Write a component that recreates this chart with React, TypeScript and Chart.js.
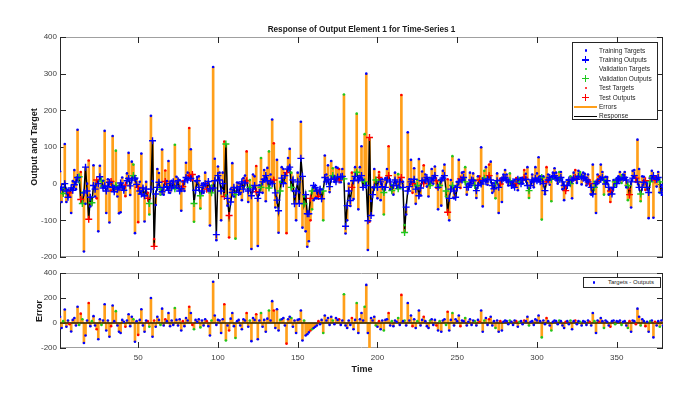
import React, { useEffect, useRef } from "react";
import { Chart, registerables } from "chart.js";
Chart.register(...registerables);

// ---------------- data ----------------
const timeTicks = [50, 100, 150, 200, 250, 300, 350];
const responseTicks = [-200, -100, 0, 100, 200, 300, 400];
const errorTicks = [-200, 0, 200, 400];

const outputs = [
  -16, -10, -27, 0, -20, -37, -25, -12, -18, -3,
  5, 17, 19, -43, -54, -25, 45, -20, -97, -37,
  -52, -5, -15, 10, 0, 19, 8, -12, -6, -20,
  -8, 4, 6, -10, -22, -5, -15, -11, 2, -8,
  -18, -4, 8, 14, -6, 10, 22, 15, -2, -10,
  -20, -28, -12, -33, -15, -40, -54, -15, 117, -171,
  -28, -10, 4, -15, -22, -10, 6, -8, -18, 0,
  -12, 5, -14, -6, 8, -20, -14, -8, 5, 17,
  10, 22, 14, 25, -54, -18, 8, -10, -33, -20,
  -5, 0, -15, 6, -14, -25, -12, 8, -139, 22,
  10, -20, 0, -35, 108, -40, -87, -50, -24, -10,
  -30, -12, -24, -8, 5, -15, 2, 8, -20, -10,
  -33, -15, -5, -22, -40, -24, -10, 5, 12, 22,
  8, -12, 5, 0, 10, -25, -45, -74, -20, 15,
  0, 22, 30, 40, 45, -10, 10, -55, -20, 5,
  -54, 69, 20, -55, -30, -82, -82, -40, -20, -5,
  -10, -20, -35, -15, -41, -20, 17, 5, 10, -8,
  12, 22, 15, 5, 18, 10, 19, 20, 13, -116,
  -60, -20, -46, -10, 8, 20, 31, 10, 15, 22,
  -10, 5, -5, -101, 126, -87, -30, -10, 10, -10,
  17, 5, -8, -24, -10, 10, 22, 5, -19, -5,
  10, -5, -14, 5, 17, -10, -133, -64, -20, -8,
  5, 0, 12, -15, -5, -33, -12, 8, 0, 10,
  17, 5, -5, 10, 15, 22, 8, -10, -5, 10,
  15, 22, -20, -78, -40, -15, -5, -20, -37, -10,
  5, 13, 10, 17, 5, -10, -10, 0, 10, 8,
  -5, -19, -5, 10, -1, 8, 15, 5, 12, 22,
  10, -5, -14, 0, 8, -10, -1, 10, 15, 17,
  10, 5, 8, -5, 5, -10, 0, 12, 5, 0,
  10, 17, 12, -5, -19, -5, 10, 5, 15, 8,
  12, 5, 17, 0, -19, 5, 10, 17, 12, 20,
  22, 15, 10, 12, 17, 5, -5, -19, -5, 10,
  0, 10, 15, 17, 12, 20, 22, 18, 15, 17,
  10, 5, 0, -10, -28, -10, 0, 5, 10, 12,
  17, 10, -1, 8, -10, -20, -28, -10, 5, 0,
  10, 12, 17, 15, 17, 10, -5, -30, 5, 15,
  22, 15, 5, -10, -28, -10, 4, 8, -10, -24,
  5, 15, 22, 10, 12, 17, 5, -24, -10,
];

const errors = [
  50, -40, 15, 108, -30, 20, -10, -68, 25, 40,
  -20, 130, -15, 75, 30, -160, -100, 20, 160, -25,
  15, 55, -20, -50, -130, 30, -15, 20, 150, -60,
  20, -110, -25, 140, 15, 95, -20, -70, -80, 25,
  10, -30, 20, 70, -25, 50, 30, -150, 15, -95,
  25, 110, -20, -70, 20, 15, -30, 200, -110, 20,
  -30, 50, 25, -15, 115, -20, 30, 15, 80, -25,
  20, -15, 120, 25, -20, 30, -60, 15, -25, 40,
  20, 130, 80, -15, -50, 25, 10, 30, -35, 20,
  -20, 30, 15, -25, -100, 20, 330, 60, -15, 25,
  20, -80, 30, 150, -140, -20, -60, 35, 80, -25,
  -120, 15, 25, -20, -50, 30, 20, 80, -30, 20,
  -145, 40, 25, 70, -130, 20, 80, -30, 25, -70,
  35, 100, 20, 175, 100, -40, 110, -60, 25, 30,
  40, -20, -165, 30, 50, 40, -30, 20, -80, 25,
  30, 100, -140, 20, -100, -90, -75, -60, -50, -40,
  -30, -20, 15, -10, 25, -80, 60, 20, 40, -15,
  50, 20, -10, 40, 25, 30, -15, 20, 230, -20,
  -40, 20, -15, 40, -50, 25, 160, -80, 30, 80,
  20, 130, 305, -80, -230, 40, 20, 50, -20, -30,
  15, -50, 20, -60, 25, 30, 80, -20, 15, -25,
  20, 10, 40, -15, 225, 15, 20, -20, 160, 20,
  60, -25, 30, -40, 15, 100, -20, 25, 50, 15,
  -25, -40, 20, 30, -15, 25, -20, -60, 15, -70,
  20, 30, -15, 90, -60, 25, 80, -20, 30, 15,
  60, -25, 20, 15, 40, -20, 10, 30, -15, 20,
  15, -20, 25, 10, 100, -70, 20, 40, -15, 30,
  50, -20, 15, -40, 20, -70, 15, -60, 10, 20,
  15, -10, 20, 10, -15, 20, 15, -30, 10, 15,
  -10, 20, 15, 50, -20, 10, 15, -15, 30, 20,
  60, 15, -115, 20, -10, 40, 15, -20, -60, 10,
  20, 15, -10, 20, 15, -20, -40, 10, 15, -10,
  20, -50, 15, 20, -10, 15, 10, -20, 15, 10,
  -15, 20, 10, -20, 80, 15, -80, 20, 10, 40,
  15, -40, 20, 10, -20, -30, 15, 20, -10, 15,
  10, 20, -15, 10, 15, -20, -40, 15, -70, 20,
  15, -10, 115, 50, -20, 30, 15, -25, 10, -70,
  15, 20, -115, 10, -20, 15, -30, 20, -20,
];

// t = training, v = validation, s = test
const splitCodes = [
  "ttvtttsttt", "ttvsvtttst", "vttsttvttt", "ttsttvtttt", "tsttttvtts",
  "tttttsvtts", "tttvttsttt", "ttvttttstt", "tstsvtttvt", "ttsttvtttt",
  "tttsvtsttt", "vttttttstv", "tttsttvttt", "tvttstttvt", "ttsttvtttt",
  "tttvtttsvt", "ttsttvtttt", "tvtttsttvt", "tttsttvttt", "tvttstttvt",
  "sttvttstvt", "ttvtstvttt", "tsttvtttst", "ttvtttstvt", "ttvsttvttt",
  "tsttvttttt", "vttsttvtts", "tttvttsttt", "ttvtttstvt", "tsttvttttt",
  "ttvttsttvt", "tttvtttstt", "vttsttvttt", "ttsttvttst", "tvtttsttvt",
  "ttvtttvstt", "tsttvttstt", "vttsttvtt",
].join("");

// ---------------- styles ----------------
const FONT = "'Liberation Sans', Arial, Helvetica, sans-serif";
const BLUE = "#0000ff";
const GREEN = "#1ec81e";
const RED = "#ff0000";
const ORANGE = "#ff9f1a";
const AX = "#262626";

const times = outputs.map((_, i) => i + 1);
const targets = outputs.map((o, i) => o + errors[i]);
const codeOf = (i: number) => splitCodes[i] || "t";

function pick(values: number[], code: string) {
  const out: { x: number; y: number }[] = [];
  values.forEach((v, i) => {
    if (codeOf(i) === code) out.push({ x: times[i], y: v });
  });
  return out;
}

const axesPlugin = {
  id: "matlabAxes",
  beforeDatasetsDraw(chart: any, _a: any, opts: any) {
    const { ctx, chartArea: a, scales } = chart;
    ctx.save();
    ctx.lineWidth = 1;
    ctx.strokeStyle = "#a0a0a0";
    ctx.beginPath();
    ctx.moveTo(a.left, a.top + 0.5);
    ctx.lineTo(a.right, a.top + 0.5);
    ctx.moveTo(a.left, a.bottom - 0.5);
    ctx.lineTo(a.right, a.bottom - 0.5);
    ctx.stroke();
    ctx.strokeStyle = AX;
    ctx.beginPath();
    ctx.moveTo(a.left + 0.5, a.top);
    ctx.lineTo(a.left + 0.5, a.bottom);
    ctx.moveTo(a.right - 0.5, a.top);
    ctx.lineTo(a.right - 0.5, a.bottom);
    const tl = 6;
    (opts.xTicks || []).forEach((v: number) => {
      const px = Math.round(scales.x.getPixelForValue(v)) + 0.5;
      ctx.moveTo(px, a.bottom);
      ctx.lineTo(px, a.bottom - tl);
      ctx.moveTo(px, a.top);
      ctx.lineTo(px, a.top + tl);
    });
    (opts.yTicks || []).forEach((v: number) => {
      const py = Math.round(scales.y.getPixelForValue(v)) + 0.5;
      ctx.moveTo(a.left, py);
      ctx.lineTo(a.left + tl, py);
      ctx.moveTo(a.right, py);
      ctx.lineTo(a.right - tl, py);
    });
    ctx.stroke();
    ctx.restore();
  },
};

const tickFont = { family: FONT, size: 8 };

function yScale(ticks: number[], min: number, max: number) {
  return {
    type: "linear",
    min,
    max,
    afterBuildTicks: (s: any) => {
      s.ticks = ticks.map((v) => ({ value: v }));
    },
    afterFit: (s: any) => {
      s.width = 60;
    },
    grid: { display: false, drawTicks: false, tickLength: 0 },
    border: { display: false },
    ticks: { font: tickFont, color: "#404040", padding: 3, autoSkip: false },
  };
}

function topConfig(): any {
  const cross = (code: string, color: string) => ({
    type: "scatter",
    data: pick(outputs, code),
    pointStyle: "cross",
    pointRadius: 3.5,
    pointBorderWidth: 1.4,
    borderColor: color,
    backgroundColor: color,
    order: 1,
  });
  const dot = (code: string, color: string) => ({
    type: "scatter",
    data: pick(targets, code),
    pointStyle: "circle",
    pointRadius: 1.3,
    pointBorderWidth: 0,
    borderColor: color,
    backgroundColor: color,
    order: 1,
  });
  return {
    type: "bar",
    data: {
      datasets: [
        dot("t", BLUE),
        cross("t", BLUE),
        dot("v", GREEN),
        cross("v", GREEN),
        dot("s", RED),
        cross("s", RED),
        {
          type: "bar",
          data: times.map((t, i) => ({ x: t, y: [outputs[i], targets[i]] })),
          backgroundColor: ORANGE,
          barThickness: 2,
          borderWidth: 0,
          order: 10,
        },
        {
          type: "line",
          data: times.map((t, i) => ({ x: t, y: outputs[i] })),
          borderColor: "#000000",
          borderWidth: 1.5,
          pointRadius: 0,
          tension: 0,
          order: 5,
        },
      ],
    },
    options: {
      responsive: false,
      animation: false,
      events: [],
      layout: { padding: { left: 0, right: 27, top: 37, bottom: 8 } },
      plugins: {
        legend: { display: false },
        tooltip: { enabled: false },
        title: { display: false },
        matlabAxes: { xTicks: timeTicks, yTicks: responseTicks },
      },
      scales: {
        x: { type: "linear", min: 1, max: 379, offset: false, display: false },
        y: yScale(responseTicks, -200, 400),
      },
    },
    plugins: [axesPlugin],
  };
}

function bottomConfig(): any {
  const dot = (code: string, color: string) => ({
    type: "scatter",
    data: pick(errors, code),
    pointStyle: "circle",
    pointRadius: 1.3,
    pointBorderWidth: 0,
    borderColor: color,
    backgroundColor: color,
    order: 1,
  });
  return {
    type: "bar",
    data: {
      datasets: [
        dot("t", BLUE),
        dot("v", GREEN),
        dot("s", RED),
        {
          type: "line",
          data: [
            { x: 1, y: 0 },
            { x: 379, y: 0 },
          ],
          borderColor: "#2a2000",
          borderWidth: 1.3,
          pointRadius: 0,
          order: 2,
        },
        {
          type: "bar",
          data: times.map((t, i) => ({ x: t, y: errors[i] })),
          backgroundColor: ORANGE,
          barThickness: 2,
          borderWidth: 0,
          order: 10,
        },
      ],
    },
    options: {
      responsive: false,
      animation: false,
      events: [],
      layout: { padding: { left: 0, right: 27, top: 8, bottom: 0 } },
      plugins: {
        legend: { display: false },
        tooltip: { enabled: false },
        title: { display: false },
        matlabAxes: { xTicks: timeTicks, yTicks: errorTicks },
      },
      scales: {
        x: {
          type: "linear",
          min: 1,
          max: 379,
          offset: false,
          afterBuildTicks: (s: any) => {
            s.ticks = timeTicks.map((v) => ({ value: v }));
          },
          afterFit: (s: any) => {
            s.height = 48;
          },
          grid: { display: false, drawTicks: false, tickLength: 0 },
          border: { display: false },
          ticks: { font: tickFont, color: "#404040", padding: 5, autoSkip: false, maxRotation: 0 },
        },
        y: yScale(errorTicks, -200, 400),
      },
    },
    plugins: [axesPlugin],
  };
}

type Row = { label: string; kind: "dot" | "cross" | "line"; color: string; w?: number };
const legendRows: Row[] = [
  { label: "Training Targets", kind: "dot", color: BLUE },
  { label: "Training Outputs", kind: "cross", color: BLUE },
  { label: "Validation Targets", kind: "dot", color: GREEN },
  { label: "Validation Outputs", kind: "cross", color: GREEN },
  { label: "Test Targets", kind: "dot", color: RED },
  { label: "Test Outputs", kind: "cross", color: RED },
  { label: "Errors", kind: "line", color: ORANGE, w: 2 },
  { label: "Response", kind: "line", color: "#000000", w: 1.5 },
];

function Marker({ kind, color, cx, cy, w }: { kind: string; color: string; cx: number; cy: number; w?: number }) {
  if (kind === "dot") {
    return (
      <div style={{ position: "absolute", left: cx - 1.2, top: cy - 1.2, width: 2.4, height: 2.4, borderRadius: "50%", background: color }} />
    );
  }
  if (kind === "cross") {
    return (
      <>
        <div style={{ position: "absolute", left: cx - 3.5, top: cy - 0.7, width: 7, height: 1.4, background: color }} />
        <div style={{ position: "absolute", left: cx - 0.7, top: cy - 3.5, width: 1.4, height: 7, background: color }} />
      </>
    );
  }
  const h = w || 1.5;
  return <div style={{ position: "absolute", left: 1, top: cy - h / 2, width: 23, height: h, background: color }} />;
}

export default function App() {
  const topRef = useRef<HTMLCanvasElement>(null);
  const botRef = useRef<HTMLCanvasElement>(null);

  useEffect(() => {
    document.body.style.margin = "0";
    const c1 = new Chart(topRef.current as HTMLCanvasElement, topConfig());
    const c2 = new Chart(botRef.current as HTMLCanvasElement, bottomConfig());
    return () => {
      c1.destroy();
      c2.destroy();
    };
  }, []);

  const labelStyle: React.CSSProperties = {
    position: "absolute",
    fontFamily: FONT,
    fontWeight: "bold",
    color: "#1a1a1a",
    textAlign: "center",
    whiteSpace: "nowrap",
  };

  return (
    <div style={{ position: "relative", width: 690, height: 396, background: "#ffffff", fontFamily: FONT, overflow: "hidden" }}>
      <canvas ref={topRef} width={690} height={265} style={{ position: "absolute", left: 0, top: 0 }} />
      <canvas ref={botRef} width={690} height={131} style={{ position: "absolute", left: 0, top: 265 }} />

      <div style={{ ...labelStyle, left: 60, width: 603, top: 24, lineHeight: "12px", fontSize: 8.2 }}>
        Response of Output Element 1 for Time-Series 1
      </div>
      <div style={{ ...labelStyle, left: 34 - 110, top: 147 - 6, width: 220, lineHeight: "12px", fontSize: 9, transform: "rotate(-90deg)" }}>
        Output and Target
      </div>
      <div style={{ ...labelStyle, left: 39 - 40, top: 311 - 6, width: 80, lineHeight: "12px", fontSize: 9, transform: "rotate(-90deg)" }}>
        Error
      </div>
      <div style={{ ...labelStyle, left: 312, top: 363, width: 100, lineHeight: "12px", fontSize: 9 }}>Time</div>

      <div style={{ position: "absolute", left: 572, top: 42, width: 86, height: 78, border: `1px solid ${AX}`, background: "#fff", boxSizing: "border-box" }}>
        {legendRows.map((r, k) => {
          const cy = 7.5 + k * 9.4;
          return (
            <React.Fragment key={k}>
              <Marker kind={r.kind} color={r.color} cx={12.7} cy={cy} w={r.w} />
              <div style={{ position: "absolute", left: 26, top: cy - 5, height: 10, lineHeight: "10px", fontSize: 6.5, color: AX, whiteSpace: "nowrap" }}>
                {r.label}
              </div>
            </React.Fragment>
          );
        })}
      </div>

      <div style={{ position: "absolute", left: 583, top: 277, width: 78, height: 11, border: `1px solid ${AX}`, background: "#fff", boxSizing: "border-box" }}>
        <Marker kind="dot" color={BLUE} cx={10} cy={4.5} />
        <div style={{ position: "absolute", left: 24, top: 0, height: 9, lineHeight: "9px", fontSize: 6, color: AX, whiteSpace: "nowrap" }}>
          Targets - Outputs
        </div>
      </div>
    </div>
  );
}
